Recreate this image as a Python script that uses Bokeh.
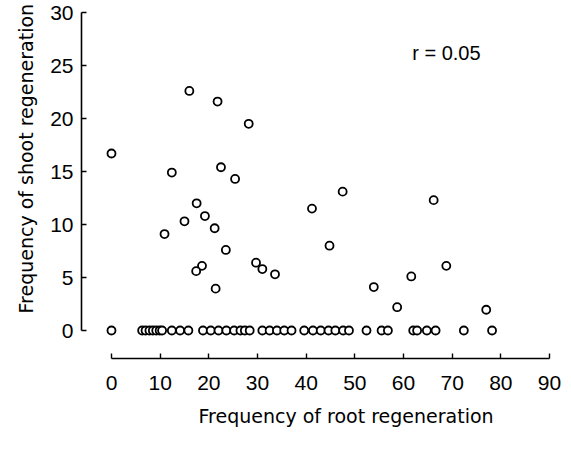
from bokeh.plotting import figure
from bokeh.models import Range1d, Label, FixedTicker, Title
from bokeh.embed import file_html
from bokeh.resources import INLINE

# Frequency of root regeneration (x) and shoot regeneration (y)
root = [0.0, 16.0, 21.8, 28.2, 12.4, 22.5, 25.4, 17.5, 41.2, 15.0, 19.2, 10.9, 21.2, 23.5,
        18.6, 17.4, 29.7, 31.0, 33.6, 21.4, 47.5, 66.2, 44.8, 68.8, 61.6, 53.9, 58.7, 77.0,
        0.0, 6.3, 7.0, 7.8, 8.5, 9.2, 9.9, 10.4, 12.4, 14.1, 15.8, 18.8, 20.4, 22.0, 23.6,
        25.2, 26.5, 27.4, 28.4, 31.0, 32.5, 34.0, 35.5, 37.0, 39.6, 41.4, 43.0, 44.6, 46.0,
        47.6, 48.8, 52.4, 55.5, 56.8, 62.0, 62.8, 64.8, 66.6, 72.4, 78.2]
shoot = [16.7, 22.6, 21.6, 19.5, 14.9, 15.4, 14.3, 12.0, 11.5, 10.3, 10.8, 9.1, 9.65, 7.6,
         6.1, 5.6, 6.4, 5.8, 5.3, 3.95, 13.1, 12.3, 8.0, 6.1, 5.1, 4.1, 2.2, 1.96,
         0, 0, 0, 0, 0, 0, 0, 0, 0, 0, 0, 0, 0, 0, 0,
         0, 0, 0, 0, 0, 0, 0, 0, 0, 0, 0, 0, 0, 0,
         0, 0, 0, 0, 0, 0, 0, 0, 0, 0, 0]
x_ticks = [0, 10, 20, 30, 40, 50, 60, 70, 80, 90]
y_ticks = [0, 5, 10, 15, 20, 25, 30]
r_text = "r = 0.05"
x_title = "Frequency of root regeneration"
y_title = "Frequency of shoot regeneration"

TICK_FONT = "Liberation Sans"
LABEL_FONT = "DejaVu Sans"

p = figure(frame_width=471, frame_height=348,
           x_range=Range1d(-6.16, 90.62), y_range=Range1d(-2.64, 30.19),
           output_backend="svg", toolbar_location=None,
           min_border_left=81, min_border_right=11, min_border_top=10, min_border_bottom=20)
p.outline_line_color = None
p.grid.visible = False
p.background_fill_color = "white"
p.border_fill_color = "white"

p.scatter(root, shoot, marker="circle", size=8, fill_color="white",
          line_color="black", line_width=1.8)

for ax in (p.xaxis[0], p.yaxis[0]):
    ax.axis_line_color = "black"
    ax.axis_line_width = 1.6
    ax.major_tick_line_color = "black"
    ax.major_tick_line_width = 1.4
    ax.major_tick_in = 5
    ax.major_tick_out = 0
    ax.minor_tick_line_color = None
    ax.major_label_text_font = TICK_FONT
    ax.major_label_text_font_size = "21px"
    ax.major_label_text_color = "black"

p.xaxis[0].ticker = FixedTicker(ticks=x_ticks)
p.yaxis[0].ticker = FixedTicker(ticks=y_ticks)
p.xaxis[0].bounds = (0, 90)
p.yaxis[0].bounds = (0, 30)
p.xaxis[0].major_label_standoff = 17
p.yaxis[0].major_label_standoff = 8

p.add_layout(Title(text=x_title, align="left", offset=117, text_font=LABEL_FONT,
                   text_font_size="19px", text_font_style="normal", text_color="black",
                   standoff=20), "below")
p.add_layout(Title(text=y_title, align="left", offset=45, text_font=LABEL_FONT,
                   text_font_size="19px", text_font_style="normal", text_color="black",
                   standoff=22), "left")

p.add_layout(Label(x=61.8, y=26.2, text=r_text, text_font=TICK_FONT,
                   text_font_size="20px", text_baseline="middle", text_align="left",
                   text_color="black"))

open("out.html", "w").write(file_html(p, INLINE))
